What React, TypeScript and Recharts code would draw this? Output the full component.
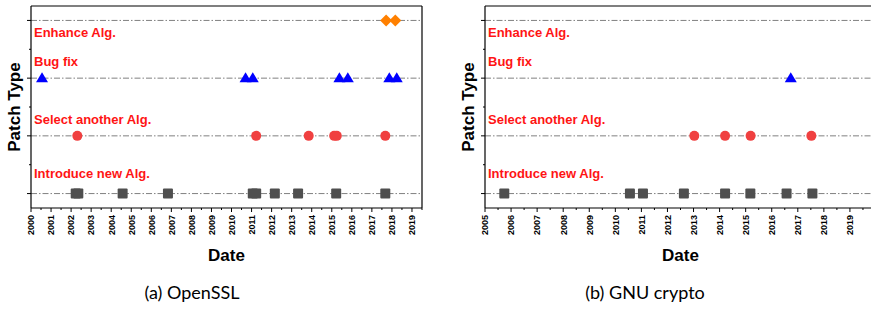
import React from 'react';
import { ScatterChart, Scatter, XAxis, YAxis, ReferenceLine } from 'recharts';

// patch categories, bottom to top
const patchTypes = ['Introduce new Alg.', 'Select another Alg.', 'Bug fix', 'Enhance Alg.'];
const typeLevels = [1, 2, 3, 4];
const levelTicks = [1, 1.5, 2, 2.5, 3, 3.5, 4];

// (a) OpenSSL - dates of each patch
const opensslIntroduce = [2002.23, 2002.36, 2004.57, 2006.83, 2011.06, 2011.23, 2012.16, 2013.32, 2015.22, 2017.67];
const opensslSelect = [2002.31, 2011.23, 2013.85, 2015.12, 2015.25, 2017.67];
const opensslBugFix = [2000.55, 2010.7, 2011.06, 2015.38, 2015.8, 2017.87, 2018.24];
const opensslEnhance = [2017.71, 2018.17];
const opensslYears = [2000, 2001, 2002, 2003, 2004, 2005, 2006, 2007, 2008, 2009, 2010, 2011, 2012, 2013, 2014, 2015, 2016, 2017, 2018, 2019];

// (b) GNU crypto
const gnuIntroduce = [2005.74, 2010.56, 2011.06, 2012.63, 2014.21, 2015.18, 2016.57, 2017.56];
const gnuSelect = [2013.03, 2014.21, 2015.19, 2017.52];
const gnuBugFix = [2016.73];
const gnuEnhance: number[] = [];
const gnuYears = [2005, 2006, 2007, 2008, 2009, 2010, 2011, 2012, 2013, 2014, 2015, 2016, 2017, 2018, 2019];

const FONT = '"Liberation Sans", Arial, sans-serif';
const labelDy = [-20, -16, -16.5, 12.5];

const toPoints = (dates: number[], level: number) => dates.map((d) => ({ date: d, level }));

const BottomTick = (props: any) => {
  const { x, y, payload } = props;
  const major = Number.isInteger(payload.value);
  return (
    <g>
      <line x1={x} y1={y} x2={x} y2={y + (major ? 4 : 2)} stroke="#000" />
      {major && (
        <text
          x={x + 3.3}
          y={y + 7}
          transform={`rotate(-90 ${x + 3.3} ${y + 7})`}
          textAnchor="end"
          fontSize={9}
          fontWeight="bold"
          fontFamily={FONT}
          fill="#000"
        >
          {payload.value}
        </text>
      )}
    </g>
  );
};

const TopTick = (props: any) => {
  const { x, y, payload } = props;
  const major = Number.isInteger(payload.value);
  return <line x1={x} y1={y} x2={x} y2={y + (major ? 3 : 2)} stroke="#000" />;
};

const SideTick = (props: any) => {
  const { x, y, payload } = props;
  const major = Number.isInteger(payload.value);
  return <line x1={x} y1={y} x2={x - (major ? 4 : 2)} y2={y} stroke="#000" />;
};

const Diamond = (p: any) => (
  <polygon points={`${p.cx},${p.cy - 6} ${p.cx + 6},${p.cy} ${p.cx},${p.cy + 6} ${p.cx - 6},${p.cy}`} fill="#ff8000" />
);
const Triangle = (p: any) => (
  <polygon points={`${p.cx},${p.cy - 6} ${p.cx + 6},${p.cy + 4} ${p.cx - 6},${p.cy + 4}`} fill="#0000ff" />
);
const Circle = (p: any) => <circle cx={p.cx} cy={p.cy} r={5} fill="#f04040" />;
const Square = (p: any) => <rect x={p.cx - 5} y={p.cy - 5} width={10} height={10} rx={1} fill="#4f4f4f" />;

const TypeLabel = (p: any) => (
  <text
    x={p.cx + 3}
    y={p.cy + p.payload.dy}
    dominantBaseline="central"
    fontSize={13}
    fontWeight="bold"
    fontFamily={FONT}
    fill="#ff1414"
  >
    {p.payload.text}
  </text>
);

interface PanelProps {
  width: number;
  years: number[];
  domain: [number, number];
  introduce: number[];
  select: number[];
  bugFix: number[];
  enhance: number[];
}

const Panel: React.FC<PanelProps> = ({ width, years, domain, introduce, select, bugFix, enhance }) => {
  const xTicks = years.flatMap((y) => [y, y + 0.5]).filter((t) => t <= domain[1]);
  const labelData = patchTypes.map((t, i) => ({ date: domain[0], level: typeLevels[i], text: t, dy: labelDy[i] }));
  return (
    <ScatterChart width={width} height={270} margin={{ top: 5, right: 0, bottom: 0, left: 0 }}>
      <XAxis
        xAxisId="b"
        dataKey="date"
        type="number"
        domain={domain}
        ticks={xTicks}
        interval={0}
        height={62}
        tickSize={0}
        tickMargin={0}
        tickLine={false}
        tick={<BottomTick />}
        axisLine={{ stroke: '#000', strokeWidth: 1.2 }}
        allowDataOverflow
        label={{ value: 'Date', position: 'insideBottom', offset: 9, fontSize: 17, fontWeight: 'bold', fill: '#000', fontFamily: FONT }}
      />
      <XAxis
        xAxisId="t"
        orientation="top"
        type="number"
        domain={domain}
        ticks={xTicks}
        interval={0}
        height={1}
        tickSize={0}
        tickMargin={0}
        tickLine={false}
        tick={<TopTick />}
        axisLine={{ stroke: '#000', strokeWidth: 1.2 }}
        allowDataOverflow
      />
      <YAxis
        yAxisId="l"
        dataKey="level"
        type="number"
        domain={[0.75, 4.25]}
        ticks={levelTicks}
        interval={0}
        width={31}
        tickSize={0}
        tickMargin={0}
        tickLine={false}
        tick={<SideTick />}
        axisLine={{ stroke: '#000', strokeWidth: 1.2 }}
        label={{ value: 'Patch Type', angle: -90, position: 'center', dx: -2, fontSize: 17, fontWeight: 'bold', fill: '#000', fontFamily: FONT }}
      />
      <YAxis
        yAxisId="r"
        orientation="right"
        type="number"
        domain={[0.75, 4.25]}
        ticks={levelTicks}
        interval={0}
        width={2}
        tickSize={0}
        tickMargin={0}
        tickLine={false}
        tick={<SideTick />}
        axisLine={{ stroke: '#000', strokeWidth: 1.2 }}
      />
      {typeLevels.map((lv) => (
        <ReferenceLine
          key={lv}
          xAxisId="b"
          yAxisId="l"
          y={lv}
          stroke="#808080"
          strokeDasharray="6 2 1.5 2"
        />
      ))}
      <Scatter xAxisId="b" yAxisId="l" data={labelData} shape={<TypeLabel />} isAnimationActive={false} />
      <Scatter xAxisId="b" yAxisId="l" data={toPoints(introduce, 1)} shape={<Square />} isAnimationActive={false} />
      <Scatter xAxisId="b" yAxisId="l" data={toPoints(select, 2)} shape={<Circle />} isAnimationActive={false} />
      <Scatter xAxisId="b" yAxisId="l" data={toPoints(bugFix, 3)} shape={<Triangle />} isAnimationActive={false} />
      <Scatter xAxisId="b" yAxisId="l" data={toPoints(enhance, 4)} shape={<Diamond />} isAnimationActive={false} />
    </ScatterChart>
  );
};

const captionStyle: React.CSSProperties = {
  position: 'absolute',
  top: 281,
  fontFamily: 'Lato, "Open Sans", sans-serif',
  fontSize: 18,
  lineHeight: '22px',
  color: '#000',
  whiteSpace: 'nowrap',
  transform: 'translateX(-50%)',
};

export default function App() {
  return (
    <div style={{ position: 'absolute', left: 0, top: 0, width: 871, height: 312, overflow: 'hidden', background: '#fff' }}>
      <div style={{ position: 'absolute', left: 0, top: 0 }}>
        <Panel
          width={424}
          years={opensslYears}
          domain={[2000, 2019.5]}
          introduce={opensslIntroduce}
          select={opensslSelect}
          bugFix={opensslBugFix}
          enhance={opensslEnhance}
        />
      </div>
      <div style={{ position: 'absolute', left: 454, top: 0 }}>
        <Panel
          width={424}
          years={gnuYears}
          domain={[2005, 2020]}
          introduce={gnuIntroduce}
          select={gnuSelect}
          bugFix={gnuBugFix}
          enhance={gnuEnhance}
        />
      </div>
      <div style={{ ...captionStyle, left: 192 }}>(a) OpenSSL</div>
      <div style={{ ...captionStyle, left: 645 }}>(b) GNU crypto</div>
    </div>
  );
}
